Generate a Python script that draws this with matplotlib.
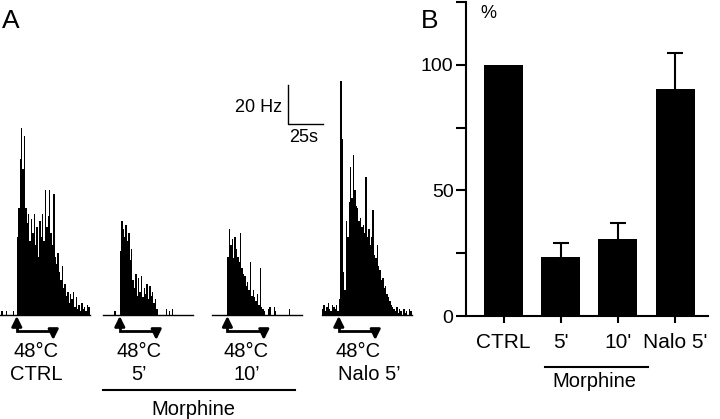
import numpy as np
import matplotlib.pyplot as plt

plt.rcParams['font.family'] = ['Liberation Sans', 'DejaVu Sans']

# --- Panel A: firing-rate histograms (Hz per 1 s bin), first bins are pre-stimulus ---
hist_labels = ["CTRL", "5’", "10’", "Nalo 5’"]
n_pre = [12, 12, 11, 12]
hist_ctrl = [0, 2, 0, 0, 2, 0, 0, 0, 0, 2, 0, 0,
             40, 55, 80, 96, 75, 92, 55, 47, 52, 38, 49, 42, 52, 36, 45, 30, 48, 40,
             52, 38, 64, 45, 51, 64, 42, 36, 62, 30, 26, 32, 22, 18, 25, 14, 16, 10,
             12, 6, 11, 8, 12, 4, 9, 3, 5, 2, 6, 3, 4, 2, 5, 4]
hist_m5 = [0, 0, 0, 0, 0, 0, 0, 0, 2, 0, 0, 0,
           33, 48, 44, 40, 46, 38, 42, 28, 34, 18, 14, 21, 10, 19, 12, 20, 9, 14,
           11, 16, 8, 15, 10, 12, 6, 8, 3, 0, 0, 0, 0, 0, 0, 3, 0, 2, 0, 3,
           0, 0, 0, 0, 0, 0, 0, 0, 0, 0, 0, 0, 0]
hist_m10 = [0, 0, 0, 0, 0, 0, 0, 0, 0, 0, 0,
            30, 44, 36, 39, 29, 40, 34, 30, 27, 42, 24, 21, 20, 15, 17, 13, 27, 10,
            13, 9, 7, 11, 5, 24, 4, 3, 2, 0, 0, 3, 4, 0, 0, 4, 2, 0, 0, 0,
            0, 0, 0, 0, 0, 0, 3, 0, 0, 0, 0, 0, 0]
hist_nalo = [3, 5, 2, 4, 6, 3, 2, 5, 4, 3, 5, 2,
             8, 120, 90, 22, 13, 48, 40, 58, 76, 60, 82, 64, 56, 55, 48, 50, 45, 46,
             42, 71, 40, 44, 36, 40, 54, 31, 29, 36, 25, 23, 18, 19, 14, 15, 11, 9,
             7, 5, 4, 3, 2, 4, 1, 3, 2, 0, 3, 1, 2, 0, 3, 2]
hists = [hist_ctrl, hist_m5, hist_m10, hist_nalo]

# --- Panel B: normalised response (%) ---
conditions = ["CTRL", "5'", "10'", "Nalo 5'"]
resp_pct = [100, 23.5, 30.7, 90.2]
resp_sem = [0, 5.7, 6.2, 14.4]

fig = plt.figure(figsize=(7.2, 4.19), dpi=100)

# panel A drawn in one axes: x in seconds, y in Hz (1 s = 1.4 px, 1 Hz = 1.95 px)
SX, SY, BASE = 1.4, 1.95, 315
ax = fig.add_axes([0, 0, 1, 1])
ax.set_xlim(0, 720 / SX)
ax.set_ylim((BASE - 419) / SY, BASE / SY)
ax.axis('off')

starts = [0, 103 / SX, 212 / SX, 322 / SX]
y_line = (BASE - 331) / SY
head = '-|>,head_width=0.3,head_length=0.6'
for i, h in enumerate(hists):
    x0 = starts[i]
    t = x0 + np.arange(len(h))
    ax.bar(t, h, width=1.0, align='edge', color='black', linewidth=0)
    ax.plot([x0, x0 + 64], [0, 0], color='black', lw=1)
    on = x0 + n_pre[i]
    # stimulus arrows
    ax.plot([on, on, on + 26, on + 26], [(BASE - 322) / SY, y_line, y_line, (BASE - 333) / SY],
            color='black', lw=2, solid_joinstyle='miter')
    ax.annotate('', xy=(on, (BASE - 316) / SY), xytext=(on, (BASE - 325) / SY),
                arrowprops=dict(arrowstyle=head, color='black', lw=2, shrinkA=0, shrinkB=0))
    ax.annotate('', xy=(on + 26, (BASE - 340) / SY), xytext=(on + 26, (BASE - 331) / SY),
                arrowprops=dict(arrowstyle=head, color='black', lw=2, shrinkA=0, shrinkB=0))
    ax.text(on + 13.5, (BASE - 357) / SY, "48°C", ha='center', va='baseline', fontsize=14.5)
    dx = 22 if i == 3 else 14
    ax.text(on + dx, (BASE - 380) / SY, hist_labels[i], ha='center', va='baseline', fontsize=14.5)

ax.plot([103 / SX, 295 / SX], [(BASE - 390) / SY] * 2, color='black', lw=1.5)
ax.text(193 / SX, (BASE - 415) / SY, "Morphine", ha='center', va='baseline', fontsize=14.5)

# scale bar 20 Hz / 25 s
sb_x, sb_y = 288 / SX, (BASE - 124) / SY
ax.plot([sb_x, sb_x, sb_x + 25], [sb_y + 20, sb_y, sb_y], color='black', lw=1)
ax.text(282 / SX, (BASE - 112) / SY, "20 Hz", ha='right', va='baseline', fontsize=13)
ax.text(289 / SX, (BASE - 142) / SY, "25s", ha='left', va='baseline', fontsize=13)

fig.text(2 / 720, 1 - 28 / 419, "A", fontsize=19, va='baseline')
fig.text(421 / 720, 1 - 28 / 419, "B", fontsize=19, va='baseline')

# panel B bar chart
axb = fig.add_axes([466 / 720, (419 - 316) / 419, (708 - 466) / 720, 314 / 419])
xpos = np.arange(len(conditions))
axb.bar(xpos, resp_pct, width=0.68, color='black')
# upward-only error bars
tops = np.array(resp_pct[1:]) + np.array(resp_sem[1:])
axb.vlines(xpos[1:], resp_pct[1:], tops, color='black', lw=1.5)
axb.hlines(tops, xpos[1:] - 0.14, xpos[1:] + 0.14, color='black', lw=1.5)
axb.set_xlim(-0.656, 3.575)
axb.set_ylim(0, 125)
axb.set_yticks([0, 25, 50, 75, 100, 125])
axb.set_yticklabels(['0', '', '50', '', '100', ''])
axb.set_xticks(xpos)
axb.set_xticklabels(conditions)
for s in ['top', 'right']:
    axb.spines[s].set_visible(False)
for s in ['left', 'bottom']:
    axb.spines[s].set_linewidth(1.5)
axb.tick_params(axis='both', direction='out', width=1.5)
axb.tick_params(axis='y', length=7, pad=2, labelsize=14)
axb.tick_params(axis='x', length=5, pad=7, labelsize=15)
trans = axb.get_xaxis_transform()
axb.plot([0.73, 2.53], [-51 / 314] * 2, color='black', lw=1.5, transform=trans, clip_on=False)
axb.text(1.58, -71 / 314, "Morphine", ha='center', va='baseline', fontsize=14.5, transform=trans)
fig.text(488 / 720, 1 - 18 / 419, "%", ha='center', va='baseline', fontsize=13)

fig.savefig("out.png", dpi=100)
